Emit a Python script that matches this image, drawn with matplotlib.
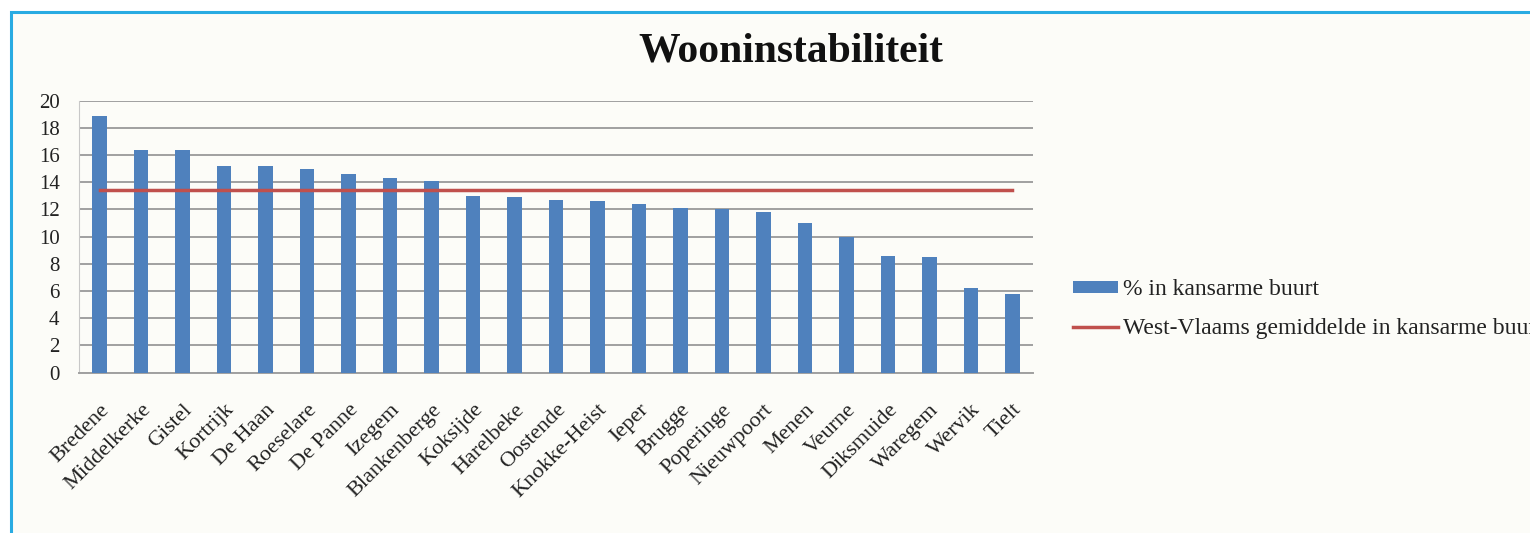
import matplotlib
matplotlib.use("Agg")
import matplotlib.pyplot as plt
from matplotlib.patches import Rectangle
import numpy as np

categories = ["Bredene", "Middelkerke", "Gistel", "Kortrijk", "De Haan", "Roeselare",
              "De Panne", "Izegem", "Blankenberge", "Koksijde", "Harelbeke", "Oostende",
              "Knokke-Heist", "Ieper", "Brugge", "Poperinge", "Nieuwpoort", "Menen",
              "Veurne", "Diksmuide", "Waregem", "Wervik", "Tielt"]
values = [18.9, 16.4, 16.4, 15.2, 15.2, 15.0, 14.6, 14.3, 14.1, 13.0, 12.9, 12.7,
          12.6, 12.4, 12.1, 12.0, 11.8, 11.0, 10.0, 8.6, 8.5, 6.2, 5.8]
average = 13.4
yticks = list(range(0, 21, 2))
title = "Wooninstabiliteit"
bar_label = "% in kansarme buurt"
line_label = "West-Vlaams gemiddelde in kansarme buurt"

plt.rcParams['font.family'] = ['Liberation Serif', 'DejaVu Serif']

W, H = 1530, 533
fig = plt.figure(figsize=(W / 100, H / 100), dpi=100, facecolor='white')

bg = '#FCFCF8'
frame = Rectangle((11 / W, -0.2), 1.5, 1.2 - 12 / H, transform=fig.transFigure,
                  facecolor=bg, edgecolor='#29ABE2', linewidth=2.2, zorder=-10)
fig.add_artist(frame)

ax = fig.add_axes([79 / W, 1 - 372.6 / H, (1033 - 79) / W, (372.6 - 100.7) / H])
ax.set_facecolor(bg)

x = np.arange(len(categories))
bars = ax.bar(x, values, width=0.35, color='#4F81BD', label=bar_label, zorder=3)
line, = ax.plot(x, [average] * len(categories), color='#C0504D', linewidth=2.5,
                label=line_label, zorder=4)

ax.set_xlim(-0.5, len(categories) - 0.5)
ax.set_ylim(0, 20)
ax.set_yticks(yticks)
ax.set_yticklabels([str(t) for t in yticks], fontsize=15, color='#222222')
ax.yaxis.grid(True, color='#A0A0A0', linewidth=1.4, zorder=0)
ax.set_axisbelow(True)
ax.set_xticks(x)
ax.set_xticklabels(categories, rotation=45, ha='right', rotation_mode='anchor',
                   fontsize=16, color='#222222')
ax.tick_params(axis='y', length=0, pad=14)
ax.tick_params(axis='x', length=0, pad=20)
for s in ['top', 'right']:
    ax.spines[s].set_visible(False)
ax.spines['left'].set_color('#C8C8C8')
ax.spines['bottom'].set_color('#A0A0A0')
ax.spines['bottom'].set_linewidth(1.4)

fig.text(791 / W, 1 - 52 / H, title, ha='center', va='center', fontsize=30,
         fontweight='bold', color='#111111')

leg = fig.legend(handles=[bars, line], labels=[bar_label, line_label],
                 loc='upper left', bbox_to_anchor=(1064 / W, 1 - 270 / H),
                 frameon=False, fontsize=17, handlelength=1.9, handleheight=0.35,
                 handletextpad=0.2, labelspacing=0.75, borderaxespad=0)
for t in leg.get_texts():
    t.set_color('#222222')

fig.savefig('out.png', dpi=100, facecolor='white')
